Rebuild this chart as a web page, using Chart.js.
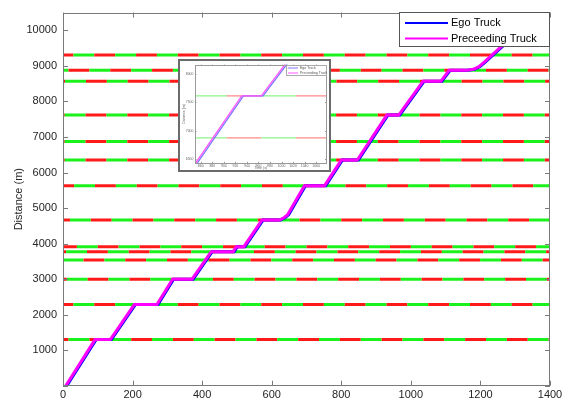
<!DOCTYPE html>
<html>
<head>
<meta charset="utf-8">
<script src="https://cdn.jsdelivr.net/npm/chart.js@4.4.1/dist/chart.umd.min.js"></script>
<style>
    html, body { margin: 0; padding: 0; background: #fff; }
    #wrap { position: relative; width: 577px; height: 401px; }
    #main { position: absolute; left: 0; top: 0; }
    #insetBox {
        position: absolute; left: 178px; top: 59px;
        width: 149px; height: 109px;
        border: 2px solid #6b6b6b; background: #fff;
    }
</style>
</head>
<body>
<div id="wrap">
    <canvas id="main" width="577" height="401"></canvas>
    <div id="insetBox"><canvas id="inset" width="149" height="109"></canvas></div>
</div>
<script>
// 系列名
const seriesNames = ['Ego Truck', 'Preceeding Truck'];

// 先行トラック（時刻 s / 距離 m）
const precTime = [8, 92, 136, 205, 270, 315, 371, 426, 489, 498, 520, 572, 622, 636, 646, 694,
    752, 800, 846, 931, 965, 1035, 1086, 1110, 1160, 1180, 1196, 1210, 1300];
const precDist = [0, 1297, 1297, 2283, 2283, 2998, 2998, 3773, 3773, 3913, 3913, 4660, 4660, 4735, 4815, 5630,
    5630, 6350, 6350, 7615, 7615, 8565, 8565, 8875, 8875, 8905, 8980, 9100, 9900];

// 自車トラック（少し遅れて追従）
const egoTime = [11, 95, 139, 208, 273, 318, 374, 429, 492, 501, 523, 575, 625, 639, 649, 697,
    755, 803, 849, 934, 968, 1038, 1089, 1113, 1163, 1183, 1199, 1213, 1303];
const egoDist = [0, 1297, 1297, 2283, 2283, 2998, 2998, 3773, 3773, 3913, 3913, 4660, 4660, 4735, 4815, 5630,
    5630, 6350, 6350, 7615, 7615, 8565, 8565, 8875, 8875, 8905, 8980, 9100, 9900];

// 信号位置（m）と青になる時刻（周期内 s）
const lightPos = [1297, 2283, 2998, 3541, 3773, 3913, 4660, 5630, 6350, 6870, 7615, 8565, 8875, 9310];
const lightGreenAt = [16, 30, 11, 119, 9, 40, 20, 32, 5, 5, 5, 6, 76, 30];
const greenTime = 60;
const redTime = 60;

// 軸範囲と目盛
const xRangeMain = [0, 1400];
const yRangeMain = [0, 10500];
const xTicksMain = [0, 200, 400, 600, 800, 1000, 1200, 1400];
const yTicksMain = [0, 1000, 2000, 3000, 4000, 5000, 6000, 7000, 8000, 9000, 10000];
const xRangeInset = [850, 1078];
const yRangeInset = [6420, 8170];
const xTicksInset = [860, 880, 900, 920, 940, 960, 980, 1000, 1020, 1040, 1060];
const yTicksInset = [6500, 7000, 7500, 8000];

const FONT = 'Liberation Sans, Arial, sans-serif';

/**
 * 信号の切替点
 */
function lightPoints(pos, greenAt) {
    const cycle = greenTime + redTime;
    const [t0, t1] = xRangeMain;
    const pts = [{ x: t0, y: pos }];
    let t = greenAt - cycle;
    while (t < t1) {
        if (t > t0) pts.push({ x: t, y: pos });
        const t2 = t + greenTime;
        if (t2 > t0 && t2 < t1) pts.push({ x: t2, y: pos });
        t += cycle;
    }
    pts.push({ x: t1, y: pos });
    return pts;
}

function buildDatasets(style) {
    const cycle = greenTime + redTime;
    const sets = [
        {
            label: seriesNames[1],
            data: precTime.map((t, i) => ({ x: t, y: precDist[i] })),
            borderColor: style.magenta, borderWidth: style.truckWidth,
            pointRadius: 0, tension: 0,
        },
        {
            label: seriesNames[0],
            data: egoTime.map((t, i) => ({ x: t, y: egoDist[i] })),
            borderColor: style.blue, borderWidth: style.truckWidth,
            pointRadius: 0, tension: 0,
        },
    ];
    lightPos.forEach((pos, i) => {
        const g = lightGreenAt[i];
        sets.push({
            label: '',
            data: lightPoints(pos, g),
            borderWidth: style.lightWidth,
            borderCapStyle: 'butt',
            borderColor: style.green,
            pointRadius: 0,
            segment: {
                borderColor: ctx => {
                    const mid = (ctx.p0.parsed.x + ctx.p1.parsed.x) / 2;
                    const ph = (((mid - g) % cycle) + cycle) % cycle;
                    return ph < greenTime ? style.green : style.red;
                },
            },
        });
    });
    return sets;
}

// 枠線と内向き目盛
const framePlugin = {
    id: 'frame',
    afterDatasetsDraw(chart, args, o) {
        const { ctx, chartArea: a, scales: { x, y } } = chart;
        ctx.save();
        ctx.strokeStyle = o.color;
        ctx.lineWidth = 1;
        ctx.beginPath();
        x.ticks.forEach(t => {
            const px = Math.round(x.getPixelForValue(t.value)) + 0.5;
            ctx.moveTo(px, a.bottom); ctx.lineTo(px, a.bottom - o.len);
            ctx.moveTo(px, a.top); ctx.lineTo(px, a.top + o.len);
        });
        y.ticks.forEach(t => {
            const py = Math.round(y.getPixelForValue(t.value)) + 0.5;
            ctx.moveTo(a.left, py); ctx.lineTo(a.left + o.len, py);
            ctx.moveTo(a.right, py); ctx.lineTo(a.right - o.len, py);
        });
        ctx.stroke();
        ctx.strokeRect(Math.round(a.left) + 0.5, Math.round(a.top) + 0.5,
            Math.round(a.width) - 1, Math.round(a.height) - 1);
        ctx.restore();
    },
};

// 凡例（プロット内右上）
const truckLegend = {
    id: 'truckLegend',
    afterDraw(chart, args, o) {
        const { ctx, chartArea: a } = chart;
        const x0 = Math.round(a.right - o.w), y0 = Math.round(a.top + o.top);
        ctx.save();
        ctx.fillStyle = '#fff';
        ctx.fillRect(x0, y0, o.w, o.h);
        ctx.strokeStyle = o.border;
        ctx.lineWidth = 1;
        ctx.strokeRect(x0 + 0.5, y0 + 0.5, o.w - 1, o.h - 1);
        ctx.font = o.font;
        ctx.textBaseline = 'middle';
        o.colors.forEach((c, i) => {
            const yy = y0 + o.rows[i];
            ctx.strokeStyle = c;
            ctx.lineWidth = o.lw;
            ctx.beginPath();
            ctx.moveTo(x0 + o.lx, yy);
            ctx.lineTo(x0 + o.lx + o.len, yy);
            ctx.stroke();
            ctx.fillStyle = o.textColor;
            ctx.fillText(seriesNames[i], x0 + o.lx + o.len + o.gap, yy);
        });
        ctx.restore();
    },
};

function fixedTicks(values) {
    return s => { s.ticks = values.map(v => ({ value: v })); };
}

/**
 * メイングラフ
 */
new Chart(document.getElementById('main'), {
    type: 'line',
    data: {
        datasets: buildDatasets({
            blue: '#0000ff', magenta: '#ff00ff', green: '#1bf21b', red: '#ff1a1a',
            truckWidth: 3, lightWidth: 3,
        }),
    },
    plugins: [framePlugin, truckLegend],
    options: {
        responsive: false,
        animation: false,
        layout: { padding: { top: 10, right: 27, left: 0, bottom: 0 } },
        plugins: {
            legend: { display: false },
            tooltip: { enabled: false },
            frame: { color: '#7a7a7a', len: 5 },
            truckLegend: {
                w: 151, h: 35, top: -1, rows: [11, 26.5], lx: 6, len: 43, gap: 3, lw: 2,
                font: '11px ' + FONT, textColor: '#000', border: '#555',
                colors: ['#0000ff', '#ff00ff'],
            },
        },
        scales: {
            x: {
                type: 'linear',
                min: xRangeMain[0], max: xRangeMain[1],
                afterBuildTicks: fixedTicks(xTicksMain),
                afterFit: s => { s.height = 15.3; },
                border: { display: false },
                grid: { display: false, drawTicks: false },
                ticks: {
                    padding: 3, maxRotation: 0, autoSkip: false,
                    color: '#262626', font: { family: FONT, size: 11 },
                    callback: v => String(v),
                },
            },
            y: {
                type: 'linear',
                min: yRangeMain[0], max: yRangeMain[1],
                afterBuildTicks: fixedTicks(yTicksMain),
                afterFit: s => { s.width = 63; },
                border: { display: false },
                grid: { display: false, drawTicks: false },
                ticks: {
                    padding: 6, autoSkip: false,
                    color: '#262626', font: { family: FONT, size: 11 },
                    callback: v => (v === 0 ? '' : String(v)),
                },
                title: {
                    display: true, text: 'Distance (m)', color: '#262626',
                    font: { family: FONT, size: 11 }, padding: { top: 12, bottom: 0 },
                },
            },
        },
    },
});

/**
 * 拡大図（インセット）
 */
new Chart(document.getElementById('inset'), {
    type: 'line',
    data: {
        datasets: buildDatasets({
            blue: '#7a7aff', magenta: '#ff55ff', green: '#8af58a', red: '#ff8a8a',
            truckWidth: 1.3, lightWidth: 1.2,
        }),
    },
    plugins: [framePlugin, truckLegend],
    options: {
        responsive: false,
        animation: false,
        layout: { padding: { top: 1, right: 2.5, left: 0, bottom: 0 } },
        plugins: {
            legend: { display: false },
            tooltip: { enabled: false },
            frame: { color: '#9a9a9a', len: 1.5 },
            truckLegend: {
                w: 41, h: 11, top: 0, rows: [3, 8], lx: 2, len: 10, gap: 2, lw: 1,
                font: '3.5px ' + FONT, textColor: '#555', border: '#aaa',
                colors: ['#7a7aff', '#ff55ff'],
            },
        },
        scales: {
            x: {
                type: 'linear',
                min: xRangeInset[0], max: xRangeInset[1],
                afterBuildTicks: fixedTicks(xTicksInset),
                afterFit: s => { s.height = 6.7; },
                border: { display: false },
                grid: { display: false, drawTicks: false },
                ticks: {
                    padding: 1, maxRotation: 0, autoSkip: false,
                    color: '#666', font: { family: FONT, size: 3.5 },
                    callback: v => String(v),
                },
                title: {
                    display: true, text: 'Time (s)', color: '#666',
                    font: { family: FONT, size: 3.5 }, padding: { top: 0, bottom: 0 },
                },
            },
            y: {
                type: 'linear',
                min: yRangeInset[0], max: yRangeInset[1],
                afterBuildTicks: fixedTicks(yTicksInset),
                afterFit: s => { s.width = 15; },
                border: { display: false },
                grid: { display: false, drawTicks: false },
                ticks: {
                    padding: 1.5, autoSkip: false,
                    color: '#666', font: { family: FONT, size: 3.5 },
                    callback: v => String(v),
                },
                title: {
                    display: true, text: 'Distance (m)', color: '#666',
                    font: { family: FONT, size: 3.5 }, padding: { top: 2, bottom: 0 },
                },
            },
        },
    },
});
</script>
</body>
</html>
